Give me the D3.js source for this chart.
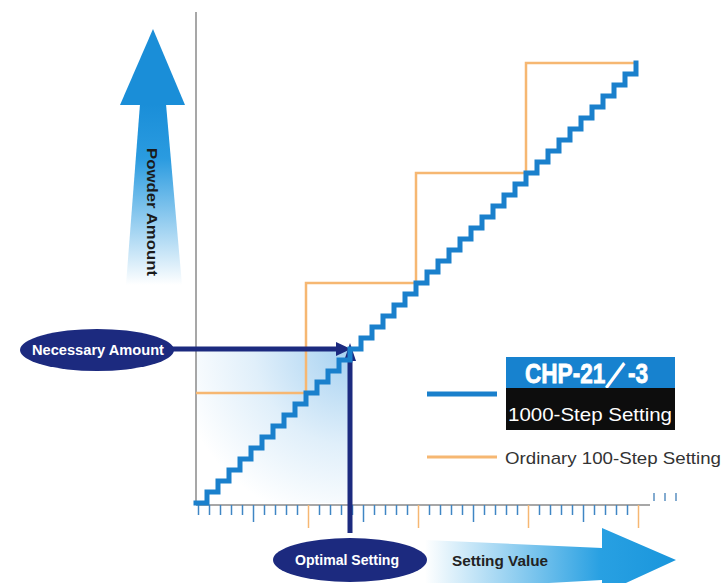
<!DOCTYPE html>
<html>
<head>
<meta charset="utf-8">
<script src="https://cdn.jsdelivr.net/npm/d3@7"></script>
<style>
  body { margin: 0; background: #fff; }
  svg { display: block; }
</style>
</head>
<body>
<script>
// ordinary 100-step setting: (setting, amount) corners of the staircase
let ordinarySetting = [0, 1, 2, 3, 4]
let ordinaryAmount = [1, 2, 3, 4, 4]

// CHP-21/-3 1000-step setting
let fineSetting = [0, 0.1, 0.2, 0.3, 0.4, 0.5, 0.6, 0.7, 0.8, 0.9, 1.0, 1.1, 1.2, 1.3, 1.4, 1.5, 1.6, 1.7, 1.8, 1.9, 2.0,
  2.1, 2.2, 2.3, 2.4, 2.5, 2.6, 2.7, 2.8, 2.9, 3.0, 3.1, 3.2, 3.3, 3.4, 3.5, 3.6, 3.7, 3.8, 3.9, 4.0]
let fineAmount = [0, 0.1, 0.2, 0.3, 0.4, 0.5, 0.6, 0.7, 0.8, 0.9, 1.0, 1.1, 1.2, 1.3, 1.4, 1.5, 1.6, 1.7, 1.8, 1.9, 2.0,
  2.1, 2.2, 2.3, 2.4, 2.5, 2.6, 2.7, 2.8, 2.9, 3.0, 3.1, 3.2, 3.3, 3.4, 3.5, 3.6, 3.7, 3.8, 3.9, 4.0]

// scale ticks (every tenth of a unit)
let tickValues = [0, 0.1, 0.2, 0.3, 0.4, 0.5, 0.6, 0.7, 0.8, 0.9, 1.0, 1.1, 1.2, 1.3, 1.4, 1.5, 1.6, 1.7, 1.8, 1.9, 2.0,
  2.1, 2.2, 2.3, 2.4, 2.5, 2.6, 2.7, 2.8, 2.9, 3.0, 3.1, 3.2, 3.3, 3.4, 3.5, 3.6, 3.7, 3.8, 3.9, 4.0]
let extraTicks = [4.1, 4.2, 4.3]

let optimalSetting = 1.4
let necessaryAmount = 1.4

let w = 722
let h = 583

let navy = "#1c2a7f"
let blue = "#1a80cc"
let orange = "#f6b772"

let svg = d3.select("body").append("svg")
  .attr("width", w)
  .attr("height", h)
  .style("font-family", "'Liberation Sans', Arial, sans-serif")

let xScale = d3.scaleLinear().domain([0, 4]).range([196, 636])
let yScale = d3.scaleLinear().domain([0, 4]).range([503, 63])

let defs = svg.append("defs")

let glow = defs.append("radialGradient").attr("id", "glow")
  .attr("gradientUnits", "userSpaceOnUse")
  .attr("cx", xScale(optimalSetting)).attr("cy", yScale(necessaryAmount)).attr("r", 175)
glow.append("stop").attr("offset", 0).attr("stop-color", "#a6d1f1")
glow.append("stop").attr("offset", 0.55).attr("stop-color", "#e0effa")
glow.append("stop").attr("offset", 1).attr("stop-color", "#ffffff")

let upGrad = defs.append("linearGradient").attr("id", "upGrad")
  .attr("x1", 0).attr("y1", 0).attr("x2", 0).attr("y2", 1)
upGrad.append("stop").attr("offset", 0).attr("stop-color", "#1a8ed8")
upGrad.append("stop").attr("offset", 0.3).attr("stop-color", "#2a9be0")
upGrad.append("stop").attr("offset", 1).attr("stop-color", "#ffffff")

let rightGrad = defs.append("linearGradient").attr("id", "rightGrad")
  .attr("x1", 0).attr("y1", 0).attr("x2", 1).attr("y2", 0)
rightGrad.append("stop").attr("offset", 0).attr("stop-color", "#ffffff")
rightGrad.append("stop").attr("offset", 0.7).attr("stop-color", "#28a0e2")
rightGrad.append("stop").attr("offset", 1).attr("stop-color", "#1a96dc")

// shaded region below/left of the optimal point
svg.append("rect")
  .attr("x", xScale(0))
  .attr("y", yScale(necessaryAmount))
  .attr("width", xScale(optimalSetting) - xScale(0))
  .attr("height", yScale(0) - yScale(necessaryAmount))
  .attr("fill", "url(#glow)")

// axes
svg.append("line")
  .attr("x1", 196).attr("x2", 196).attr("y1", 12).attr("y2", 505)
  .attr("stroke", "#8a8a8a").attr("stroke-width", 1.5)
svg.append("line")
  .attr("x1", 196).attr("x2", 650).attr("y1", 505).attr("y2", 505)
  .attr("stroke", "#8a8a8a").attr("stroke-width", 1.5)

let xAxis = d3.axisBottom(xScale).tickValues(tickValues).tickSize(10).tickFormat("")
let axisG = svg.append("g").attr("transform", "translate(2,505)").call(xAxis)
axisG.select(".domain").remove()
axisG.selectAll(".tick line")
  .attr("stroke-width", 1.5)
  .attr("stroke", (d) => {
    let k = Math.round(d * 10)
    return (k % 10 === 0 && k > 0) ? orange : "#3f86c4"
  })
  .attr("y2", (d) => {
    let k = Math.round(d * 10)
    if (k % 10 === 0 && k > 0) return 23
    if (k % 5 === 0 && k > 0) return 17
    return 10
  })

svg.append("g").selectAll("line")
  .data(extraTicks)
  .enter()
  .append("line")
  .attr("x1", (d) => xScale(d) + 7).attr("x2", (d) => xScale(d) + 7)
  .attr("y1", 493).attr("y2", 501)
  .attr("stroke", "#5a8fc0").attr("stroke-width", 1.5)

// ordinary staircase
let ordinaryLine = d3.line()
  .x((d, i) => xScale(ordinarySetting[i]))
  .y((d, i) => yScale(ordinaryAmount[i]))
  .curve(d3.curveStepAfter)
svg.append("path")
  .attr("d", ordinaryLine(ordinarySetting))
  .attr("fill", "none")
  .attr("stroke", orange)
  .attr("stroke-width", 2.5)

// arrows to optimal point
let px = xScale(optimalSetting)
let py = yScale(necessaryAmount)
svg.append("line")
  .attr("x1", 172).attr("x2", px - 8).attr("y1", py).attr("y2", py)
  .attr("stroke", navy).attr("stroke-width", 5)
svg.append("path")
  .attr("d", `M${px - 14},${py - 7} L${px + 1},${py} L${px - 14},${py + 7} Z`)
  .attr("fill", navy)
svg.append("line")
  .attr("x1", px).attr("x2", px).attr("y1", 533).attr("y2", py + 6)
  .attr("stroke", navy).attr("stroke-width", 5)
svg.append("path")
  .attr("d", `M${px - 6},${py + 12} L${px},${py - 6} L${px + 6},${py + 12} Z`)
  .attr("fill", navy)

// fine staircase
let fineLine = d3.line()
  .x((d, i) => xScale(fineSetting[i]))
  .y((d, i) => yScale(fineAmount[i]))
  .curve(d3.curveStepAfter)
svg.append("path")
  .attr("d", fineLine(fineSetting))
  .attr("fill", "none")
  .attr("stroke", blue)
  .attr("stroke-width", 5)
  .attr("stroke-linecap", "square")

// powder amount arrow
svg.append("path")
  .attr("d", "M140,104 L166,104 L182,285 L126,285 Z")
  .attr("fill", "url(#upGrad)")
svg.append("path")
  .attr("d", "M153,29 L185,105 L120,105 Z")
  .attr("fill", "#1a8ed8")
svg.append("text")
  .text("Powder Amount")
  .attr("transform", "translate(147,148) rotate(90)")
  .attr("font-weight", "bold")
  .attr("font-size", 14)
  .attr("textLength", 128)
  .attr("lengthAdjust", "spacingAndGlyphs")
  .attr("fill", "#1a1a1a")

// setting value arrow
svg.append("path")
  .attr("d", "M425,540 L602,548 L602,528 L676,560 L602,594 L602,580 L425,590 Z")
  .attr("fill", "url(#rightGrad)")
svg.append("text")
  .text("Setting Value")
  .attr("x", 452).attr("y", 566)
  .attr("font-weight", "bold")
  .attr("font-size", 15)
  .attr("textLength", 96)
  .attr("lengthAdjust", "spacingAndGlyphs")
  .attr("fill", "#222")

// ellipse labels
svg.append("ellipse")
  .attr("cx", 97).attr("cy", 350).attr("rx", 77).attr("ry", 21)
  .attr("fill", navy)
svg.append("text")
  .text("Necessary Amount")
  .attr("x", 32).attr("y", 355)
  .attr("font-weight", "bold")
  .attr("font-size", 14.5)
  .attr("textLength", 132)
  .attr("lengthAdjust", "spacingAndGlyphs")
  .attr("fill", "#fff")

svg.append("ellipse")
  .attr("cx", 350).attr("cy", 560).attr("rx", 77).attr("ry", 22)
  .attr("fill", navy)
svg.append("text")
  .text("Optimal Setting")
  .attr("x", 295).attr("y", 565)
  .attr("font-weight", "bold")
  .attr("font-size", 15)
  .attr("textLength", 104)
  .attr("lengthAdjust", "spacingAndGlyphs")
  .attr("fill", "#fff")

// legend
svg.append("line")
  .attr("x1", 427).attr("x2", 497).attr("y1", 394).attr("y2", 394)
  .attr("stroke", blue).attr("stroke-width", 5)
svg.append("rect")
  .attr("x", 506).attr("y", 357).attr("width", 169).attr("height", 31)
  .attr("fill", "#1782cf")
svg.append("text")
  .text("CHP-21／-3")
  .attr("x", 525).attr("y", 383)
  .attr("font-weight", "bold")
  .attr("font-size", 28)
  .attr("textLength", 123)
  .attr("lengthAdjust", "spacingAndGlyphs")
  .attr("fill", "#fff")
  .attr("stroke", "#fff")
  .attr("stroke-width", 0.8)
svg.append("rect")
  .attr("x", 506).attr("y", 388).attr("width", 169).attr("height", 42)
  .attr("fill", "#0d0d0d")
svg.append("text")
  .text("1000-Step Setting")
  .attr("x", 508).attr("y", 421)
  .attr("font-size", 18.5)
  .attr("textLength", 164)
  .attr("lengthAdjust", "spacingAndGlyphs")
  .attr("fill", "#fff")

svg.append("line")
  .attr("x1", 427).attr("x2", 497).attr("y1", 457).attr("y2", 457)
  .attr("stroke", orange).attr("stroke-width", 3)
svg.append("text")
  .text("Ordinary 100-Step Setting")
  .attr("x", 505).attr("y", 464)
  .attr("font-size", 17)
  .attr("textLength", 216)
  .attr("lengthAdjust", "spacingAndGlyphs")
  .attr("fill", "#333")
</script>
</body>
</html>
